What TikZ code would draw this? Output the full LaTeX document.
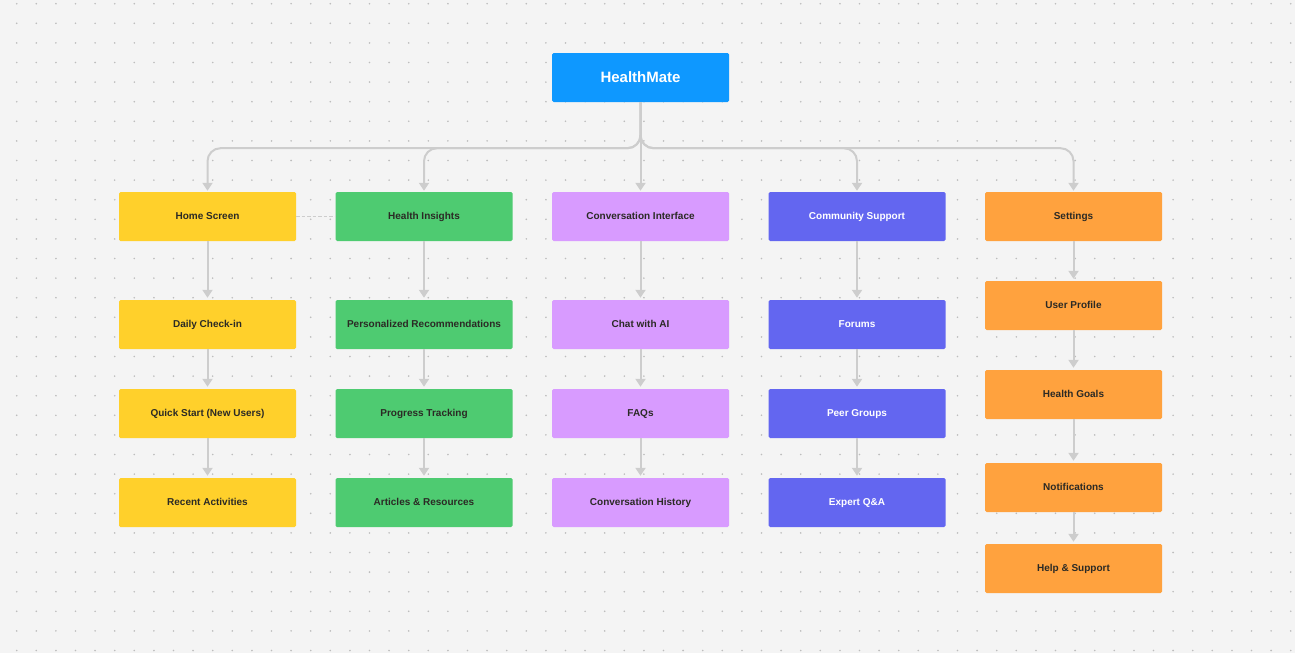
\documentclass[tikz,border=0pt]{standalone}
\usepackage{fontspec}
\setmainfont{Liberation Sans}
\usetikzlibrary{arrows.meta}
\definecolor{bg}{HTML}{F4F4F4}
\definecolor{dotc}{HTML}{BDBDBD}
\definecolor{lg}{HTML}{CDCDCD}
\definecolor{cblue}{HTML}{0E98FF}
\definecolor{cyellow}{HTML}{FFD02B}
\definecolor{cgreen}{HTML}{4ECB71}
\definecolor{clav}{HTML}{D89BFF}
\definecolor{cindigo}{HTML}{6366F0}
\definecolor{corange}{HTML}{FFA23E}
\definecolor{txt}{HTML}{2B2A25}
\begin{document}
\begin{tikzpicture}[x=1pt,y=-1pt,
  box/.style={minimum width=177pt,minimum height=49pt,inner sep=0pt,rounded corners=1.5pt,
    font=\bfseries\fontsize{10}{12}\selectfont,text=txt,text height=7.5pt,text depth=1.5pt},
  ybox/.style={box,fill=cyellow},
  gbox/.style={box,fill=cgreen},
  lbox/.style={box,fill=clav},
  ibox/.style={box,fill=cindigo,text=white},
  obox/.style={box,fill=corange},
  conn/.style={draw=lg,line width=2pt,-{Triangle[width=10pt,length=8pt]},shorten >=2pt},
  tree/.style={conn,rounded corners=13pt,shorten >=1pt}]
\fill[bg] (0,0) rectangle (1295,653);
\useasboundingbox (0,0) rectangle (1295,653);
\foreach \i in {0,...,65}{\foreach \j in {0,...,33}{\fill[dotc] (16.7+19.6*\i,3.7+19.6*\j) circle (0.9pt);}}
% root
\node[box,fill=cblue,text=white,font=\bfseries\fontsize{15}{18}\selectfont,text height=11pt,text depth=2pt] (hm) at (640.5,77.5) {HealthMate};
% column 1
\node[ybox] (hs) at (207.5,216.5) {Home Screen};
\node[ybox] (dc) at (207.5,324.5) {Daily Check-in};
\node[ybox] (qs) at (207.5,413.5) {Quick Start (New Users)};
\node[ybox] (ra) at (207.5,502.5) {Recent Activities};
% column 2
\node[gbox] (hi) at (424,216.5) {Health Insights};
\node[gbox] (pr) at (424,324.5) {Personalized Recommendations};
\node[gbox] (pt) at (424,413.5) {Progress Tracking};
\node[gbox] (ar) at (424,502.5) {Articles \& Resources};
% column 3
\node[lbox] (ci) at (640.5,216.5) {Conversation Interface};
\node[lbox] (ca) at (640.5,324.5) {Chat with AI};
\node[lbox] (fq) at (640.5,413.5) {FAQs};
\node[lbox] (ch) at (640.5,502.5) {Conversation History};
% column 4
\node[ibox] (cs) at (857,216.5) {Community Support};
\node[ibox] (fo) at (857,324.5) {Forums};
\node[ibox] (pg) at (857,413.5) {Peer Groups};
\node[ibox] (eq) at (857,502.5) {Expert Q\&A};
% column 5
\node[obox] (se) at (1073.5,216.5) {Settings};
\node[obox] (up) at (1073.5,305.5) {User Profile};
\node[obox] (hg) at (1073.5,394.5) {Health Goals};
\node[obox] (no) at (1073.5,487.5) {Notifications};
\node[obox] (hp) at (1073.5,568.5) {Help \& Support};
% tree
\draw[tree] (hm.south) -- ++(0,46) -| (hs.north);
\draw[tree] (hm.south) -- ++(0,46) -| (hi.north);
\draw[tree] (hm.south) -- (ci.north);
\draw[tree] (hm.south) -- ++(0,46) -| (cs.north);
\draw[tree] (hm.south) -- ++(0,46) -| (se.north);
% dashed
\draw[lg,line width=1.3pt,dash pattern=on 3.5pt off 2pt] (hs.east) -- (hi.west);
% vertical chains
\draw[conn] (hs) -- (dc);
\draw[conn] (dc) -- (qs);
\draw[conn] (qs) -- (ra);
\draw[conn] (hi) -- (pr);
\draw[conn] (pr) -- (pt);
\draw[conn] (pt) -- (ar);
\draw[conn] (ci) -- (ca);
\draw[conn] (ca) -- (fq);
\draw[conn] (fq) -- (ch);
\draw[conn] (cs) -- (fo);
\draw[conn] (fo) -- (pg);
\draw[conn] (pg) -- (eq);
\draw[conn] (se) -- (up);
\draw[conn] (up) -- (hg);
\draw[conn] (hg) -- (no);
\draw[conn] (no) -- (hp);
\end{tikzpicture}
\end{document}
